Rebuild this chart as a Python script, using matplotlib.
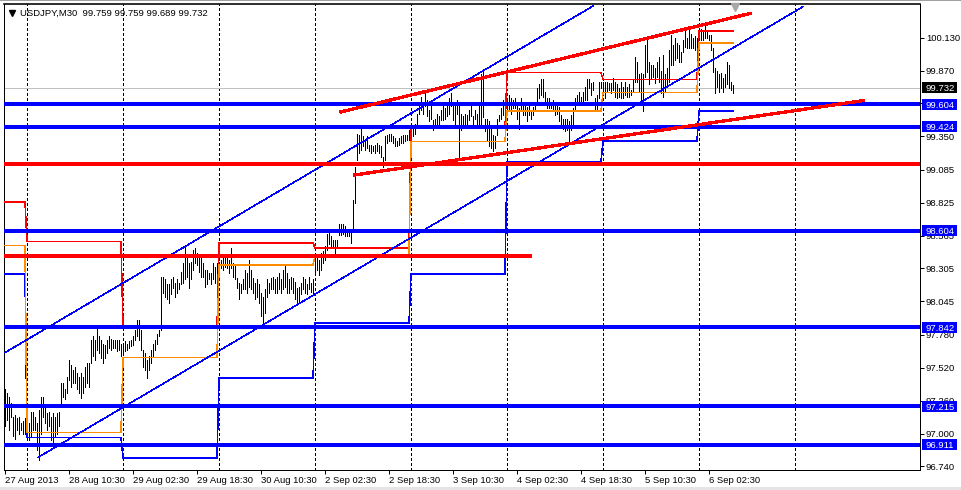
import numpy as np
import matplotlib
matplotlib.use("Agg")
import matplotlib.pyplot as plt
from matplotlib.transforms import blended_transform_factory
from matplotlib.patches import Rectangle

plt.rcParams['font.family'] = ['Liberation Sans', 'DejaVu Sans']

# ---------------- data (USDJPY M30 bars) ----------------
highs = [
    97.35, 97.32, 97.29, 97.24, 97.13, 97.15, 97.12, 97.13, 97.08, 97.10,
    97.12, 97.06, 97.08, 97.17, 97.17, 97.13, 97.08, 97.19, 97.29, 97.29,
    97.21, 97.16, 97.17, 97.13, 97.16, 97.13, 97.16, 97.17, 97.40, 97.40,
    97.35, 97.45, 97.58, 97.54, 97.50, 97.53, 97.48, 97.45, 97.48, 97.45,
    97.53, 97.56, 97.56, 97.74, 97.77, 97.74, 97.83, 97.77, 97.74, 97.71,
    97.70, 97.74, 97.77, 97.75, 97.74, 97.74, 97.74, 97.74, 97.71, 97.71,
    97.73, 97.71, 97.73, 97.74, 97.77, 97.82, 97.90, 97.90, 97.82, 97.66,
    97.64, 97.58, 97.61, 97.66, 97.71, 97.74, 97.79, 97.82, 98.24, 98.24,
    98.22, 98.18, 98.18, 98.22, 98.24, 98.19, 98.22, 98.19, 98.28, 98.35,
    98.49, 98.40, 98.35, 98.36, 98.45, 98.47, 98.43, 98.41, 98.40, 98.35,
    98.29, 98.29, 98.27, 98.27, 98.35, 98.32, 98.35, 98.36, 98.37, 98.40,
    98.40, 98.39, 98.37, 98.47, 98.35, 98.33, 98.23, 98.19, 98.18, 98.22,
    98.29, 98.27, 98.37, 98.29, 98.23, 98.19, 98.22, 98.18, 98.11, 98.08,
    98.14, 98.22, 98.19, 98.23, 98.24, 98.22, 98.24, 98.27, 98.22, 98.29,
    98.33, 98.27, 98.22, 98.24, 98.23, 98.20, 98.15, 98.16, 98.19, 98.24,
    98.22, 98.18, 98.24, 98.19, 98.22, 98.37, 98.40, 98.37, 98.43, 98.44,
    98.48, 98.58, 98.60, 98.56, 98.53, 98.53, 98.53, 98.66, 98.66, 98.66,
    98.64, 98.61, 98.61, 98.62, 98.85, 99.11, 99.37, 99.36, 99.41, 99.35,
    99.32, 99.35, 99.28, 99.28, 99.27, 99.28, 99.30, 99.28, 99.27, 99.19,
    99.35, 99.36, 99.37, 99.37, 99.35, 99.34, 99.31, 99.34, 99.35, 99.36,
    99.36, 99.36, 99.40, 99.43, 99.41, 99.45, 99.53, 99.61, 99.66, 99.61,
    99.69, 99.64, 99.56, 99.59, 99.48, 99.49, 99.53, 99.51, 99.56, 99.59,
    99.57, 99.61, 99.65, 99.69, 99.60, 99.59, 99.64, 99.61, 99.53, 99.51,
    99.53, 99.52, 99.56, 99.59, 99.51, 99.56, 99.53, 99.60, 99.84, 99.86,
    99.49, 99.49, 99.47, 99.41, 99.36, 99.35, 99.49, 99.52, 99.57, 99.64,
    99.68, 99.65, 99.68, 99.65, 99.64, 99.65, 99.60, 99.57, 99.65, 99.62,
    99.60, 99.58, 99.60, 99.56, 99.58, 99.61, 99.73, 99.76, 99.80, 99.80,
    99.70, 99.65, 99.65, 99.62, 99.64, 99.60, 99.61, 99.58, 99.52, 99.49,
    99.49, 99.49, 99.47, 99.52, 99.57, 99.65, 99.68, 99.70, 99.66, 99.70,
    99.74, 99.80, 99.80, 99.77, 99.78, 99.65, 99.68, 99.78, 99.78, 99.78,
    99.78, 99.78, 99.77, 99.77, 99.81, 99.78, 99.76, 99.73, 99.78, 99.74,
    99.78, 99.74, 99.76, 99.72, 99.80, 99.98, 99.94, 99.84, 99.85, 99.84,
    100.07, 100.11, 99.94, 99.91, 99.91, 99.89, 99.94, 99.98, 99.87, 99.99,
    99.84, 99.89, 100.03, 100.15, 100.07, 100.13, 100.09, 100.07, 100.02, 100.11,
    100.18, 100.13, 100.19, 100.16, 100.13, 100.14, 100.13, 100.19, 100.20, 100.19,
    100.22, 100.18, 100.15, 100.15, 100.05, 99.89, 99.87, 99.84, 99.85, 99.81,
    99.84, 99.94, 99.91, 99.78, 99.759,
]
lows = [
    97.06, 97.11, 97.03, 97.13, 96.98, 96.96, 97.03, 97.00, 97.03, 97.00,
    97.00, 96.96, 96.95, 96.98, 97.03, 97.03, 96.87, 96.79, 97.00, 97.13,
    97.08, 97.03, 97.06, 96.95, 96.92, 96.98, 97.00, 97.06, 97.21, 97.29,
    97.27, 97.32, 97.42, 97.37, 97.40, 97.40, 97.35, 97.32, 97.28, 97.32,
    97.37, 97.40, 97.37, 97.56, 97.61, 97.58, 97.66, 97.64, 97.60, 97.56,
    97.60, 97.64, 97.68, 97.66, 97.68, 97.68, 97.65, 97.66, 97.61, 97.64,
    97.65, 97.66, 97.68, 97.69, 97.70, 97.74, 97.77, 97.74, 97.66, 97.53,
    97.50, 97.44, 97.50, 97.56, 97.61, 97.66, 97.71, 97.77, 97.82, 98.11,
    98.08, 98.06, 98.03, 98.10, 98.15, 98.08, 98.11, 98.14, 98.18, 98.19,
    98.22, 98.24, 98.15, 98.22, 98.29, 98.35, 98.33, 98.28, 98.24, 98.24,
    98.16, 98.18, 98.22, 98.18, 98.22, 98.19, 98.24, 98.27, 98.31, 98.29,
    98.32, 98.31, 98.27, 98.31, 98.24, 98.22, 98.15, 98.06, 98.11, 98.14,
    98.14, 98.11, 98.16, 98.14, 98.11, 98.06, 98.08, 98.03, 97.93, 97.87,
    97.95, 98.08, 98.11, 98.14, 98.14, 98.11, 98.11, 98.14, 98.11, 98.14,
    98.16, 98.11, 98.11, 98.14, 98.11, 98.06, 98.03, 98.03, 98.10, 98.14,
    98.11, 98.10, 98.14, 98.12, 98.11, 98.27, 98.29, 98.25, 98.29, 98.35,
    98.37, 98.45, 98.50, 98.48, 98.48, 98.41, 98.47, 98.57, 98.57, 98.58,
    98.56, 98.56, 98.56, 98.51, 98.61, 98.82, 99.16, 99.22, 99.24, 99.27,
    99.24, 99.26, 99.23, 99.22, 99.23, 99.22, 99.23, 99.22, 99.19, 99.11,
    99.16, 99.30, 99.31, 99.31, 99.30, 99.27, 99.27, 99.28, 99.30, 99.30,
    99.31, 99.32, 99.32, 99.34, 99.35, 99.37, 99.45, 99.53, 99.56, 99.53,
    99.59, 99.51, 99.47, 99.49, 99.40, 99.43, 99.44, 99.43, 99.48, 99.48,
    99.49, 99.51, 99.53, 99.59, 99.48, 99.45, 99.53, 99.18, 99.40, 99.43,
    99.45, 99.43, 99.48, 99.51, 99.43, 99.49, 99.45, 99.45, 99.45, 99.50,
    99.39, 99.31, 99.27, 99.26, 99.23, 99.26, 99.36, 99.47, 99.49, 99.52,
    99.47, 99.52, 99.55, 99.53, 99.57, 99.57, 99.49, 99.41, 99.55, 99.52,
    99.52, 99.47, 99.52, 99.49, 99.52, 99.55, 99.62, 99.65, 99.68, 99.66,
    99.60, 99.57, 99.57, 99.57, 99.55, 99.52, 99.53, 99.47, 99.44, 99.41,
    99.39, 99.40, 99.31, 99.40, 99.45, 99.55, 99.60, 99.60, 99.61, 99.62,
    99.64, 99.64, 99.73, 99.68, 99.72, 99.55, 99.55, 99.65, 99.73, 99.68,
    99.65, 99.70, 99.72, 99.69, 99.72, 99.66, 99.65, 99.66, 99.65, 99.65,
    99.68, 99.66, 99.66, 99.68, 99.70, 99.78, 99.78, 99.70, 99.62, 99.55,
    99.82, 99.86, 99.76, 99.80, 99.82, 99.77, 99.82, 99.78, 99.69, 99.66,
    99.70, 99.74, 99.78, 99.91, 99.91, 99.95, 99.97, 99.94, 99.94, 100.02,
    100.06, 100.05, 100.05, 100.05, 100.05, 100.03, 99.97, 100.11, 100.11, 100.11,
    100.13, 100.13, 100.11, 100.03, 99.86, 99.69, 99.74, 99.70, 99.73, 99.70,
    99.74, 99.76, 99.73, 99.72, 99.689,
]

header_text = "USDJPY,M30  99.759 99.759 99.689 99.732"
last_close = 99.732

# daily indicator levels (previous day high / low / close), one value per day
day_starts = [0, 11, 59, 107, 155, 203, 251, 299, 347]
prev_high = [98.83, 98.52, 97.83, 98.505, 98.465, 99.41, 99.853, 99.80, 100.183]
prev_low = [98.26, 96.97, 96.805, 97.438, 97.875, 98.26, 99.151, 99.312, 99.55]
prev_close = [98.486, 97.01, 97.60, 98.333, 98.40, 99.308, 99.55, 99.698, 100.086]

period_separators = [11, 59, 107, 155, 203, 251, 299, 347, 395]

blue_levels = [99.604, 99.424, 98.604, 97.842, 97.215, 96.911]
red_level_full = 99.13
red_level_part = 98.407
red_level_part_end = 262.5

red_trend_upper = ([168, 372.5], [99.543, 100.321])
red_trend_lower = ([175, 429], [99.045, 99.632])
blue_chan_upper = ([0, 294], [97.640, 100.38])
blue_chan_lower = ([16.35, 399], [96.81, 100.375])

ytick_vals = [100.130, 99.870, 99.610, 99.350, 99.085, 98.825, 98.565,
              98.305, 98.045, 97.780, 97.520, 97.260, 97.000, 96.740]
xtick_bars = [0, 32, 64, 96, 128, 160, 192, 224, 256, 288, 320, 352]
xtick_labels = ["27 Aug 2013", "28 Aug 10:30", "29 Aug 02:30", "29 Aug 18:30",
                "30 Aug 10:30", "2 Sep 02:30", "2 Sep 18:30", "3 Sep 10:30",
                "4 Sep 02:30", "4 Sep 18:30", "5 Sep 10:30", "6 Sep 02:30"]

# ---------------- figure ----------------
W, H = 962, 490
PX = 72.0 / 100.0  # points per pixel
FS = 6.8
THIN = 0.55 * PX
THICK = 2.3 * PX

fig = plt.figure(figsize=(W / 100, H / 100), dpi=100)
fig.patch.set_facecolor('white')
ax = fig.add_axes([4 / W, (H - 470) / H, 916 / W, 466 / H])
ax.set_facecolor('white')
ax.set_xlim(-0.5, 457.5)
ax.set_ylim(96.712, 100.396)

n = len(highs)
xb = np.arange(n)

# period separators
for s in period_separators:
    ax.axvline(s, color='black', lw=THIN, ls=(0, (5, 4)), antialiased=False, zorder=1)

# current price line
ax.axhline(last_close, color='#c0c0c0', lw=THIN, antialiased=False, zorder=1.5)

# OHLC bars
ax.vlines(xb, lows, highs, colors='black', lw=0.9 * PX, antialiased=False, zorder=2)


def per_bar(levels):
    out = np.empty(n)
    bounds = day_starts + [n]
    for k, v in enumerate(levels):
        out[bounds[k]:bounds[k + 1]] = v
    return out


ax.plot(xb, per_bar(prev_high), color='#ff0000', lw=THIN, antialiased=False, zorder=3)
ax.plot(xb, per_bar(prev_low), color='#0000ff', lw=THIN, antialiased=False, zorder=3.1)
ax.plot(xb, per_bar(prev_close), color='#ff8c00', lw=THIN, antialiased=False, zorder=3.2)

# blue thin channel
for xs, ys in (blue_chan_upper, blue_chan_lower):
    ax.plot(xs, ys, color='#0000ff', lw=THIN, antialiased=False, zorder=4)

# horizontal levels
for v in blue_levels:
    ax.axhline(v, color='#0000ff', lw=THICK, antialiased=False, zorder=5)
ax.axhline(red_level_full, color='#ff0000', lw=THICK, antialiased=False, zorder=5)
ax.plot([-0.5, red_level_part_end], [red_level_part, red_level_part],
        color='#ff0000', lw=THICK, antialiased=False, zorder=5)

# red trend lines
for xs, ys in (red_trend_upper, red_trend_lower):
    ax.plot(xs, ys, color='#ff0000', lw=THICK, antialiased=False, zorder=6)

# axes styling
for sp in ax.spines.values():
    sp.set_color('black')
    sp.set_linewidth(PX)
ax.spines['top'].set_linewidth(1.6 * PX)

ax.yaxis.tick_right()
ax.set_yticks(ytick_vals)
ax.set_yticklabels([f"{v:.3f}" for v in ytick_vals], fontsize=FS)
ax.tick_params(axis='y', direction='out', length=3.5 * PX, width=PX, pad=2.5 * PX,
               colors='black')
ax.set_xticks(xtick_bars)
ax.set_xticklabels(xtick_labels, fontsize=FS, ha='left')
ax.tick_params(axis='x', direction='out', length=4 * PX, width=PX, pad=1.5 * PX,
               colors='black')

# price boxes on the right scale
trans = blended_transform_factory(ax.transAxes, ax.transData)
apx = 1.0 / 916
box_h = 11 / 126.5


def price_box(v, face):
    ax.add_patch(Rectangle((1 + 2 * apx, v - box_h / 2), 35 * apx, box_h, transform=trans,
                           facecolor=face, edgecolor='none', clip_on=False, zorder=20))
    ax.text(1 + 6 * apx, v, f"{v:.3f}", transform=trans, color='white', fontsize=FS,
            ha='left', va='center_baseline', clip_on=False, zorder=21)


for v in blue_levels:
    price_box(v, '#0000ff')
price_box(last_close, 'black')

# header
ax.text((20 - 4) * apx, 1 - (13 - 4) / 466, header_text, transform=ax.transAxes,
        fontsize=FS, color='black', ha='left', va='center', zorder=22)
ax.plot([(12 - 4) * apx], [1 - (13 - 4) / 466], marker='v', color='black', ms=4.2,
        transform=ax.transAxes, clip_on=False, zorder=22)
# chart shift marker
ax.plot([n], [1 - 3 / 466], marker='v', color='#a8a8a8', ms=6,
        transform=blended_transform_factory(ax.transData, ax.transAxes),
        clip_on=False, zorder=22)

# window frame hints
fig.add_artist(Rectangle((0, 1 - 1.5 / H), 1, 1.5 / H, transform=fig.transFigure,
                         facecolor='#a0a0a0', edgecolor='none'))
fig.add_artist(Rectangle((0, 0), 1, 3 / H, transform=fig.transFigure,
                         facecolor='#e4e4e4', edgecolor='none'))

fig.savefig('out.png', dpi=100, facecolor='white')
